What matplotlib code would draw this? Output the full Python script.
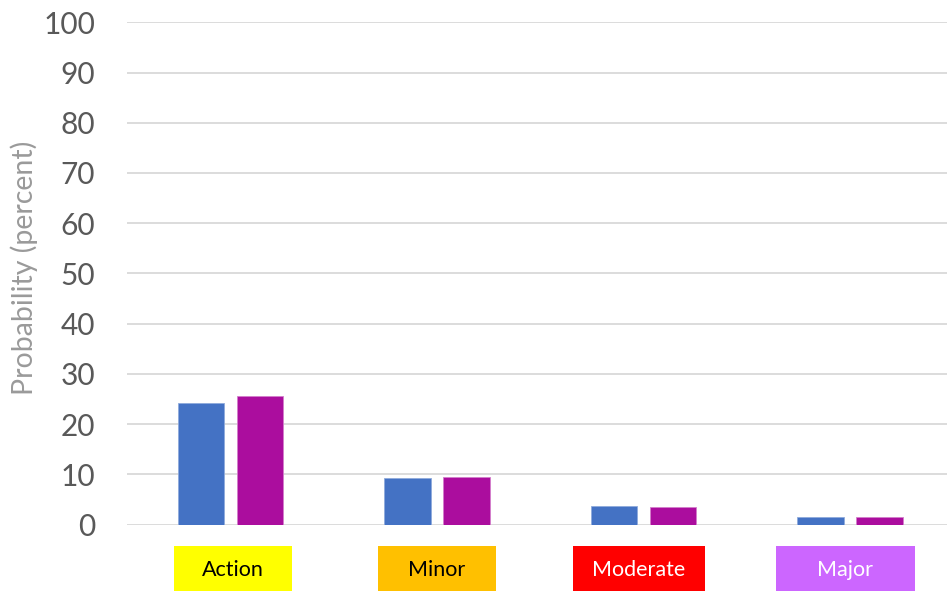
import matplotlib
matplotlib.use("Agg")
import matplotlib.pyplot as plt
from matplotlib.patches import Rectangle
import numpy as np

categories = ["Action", "Minor", "Moderate", "Major"]
series_a = [24.2, 9.3, 3.6, 1.45]
series_b = [25.6, 9.4, 3.55, 1.45]
yticks = [0, 10, 20, 30, 40, 50, 60, 70, 80, 90, 100]

box_colors = ["#FFFF00", "#FFC000", "#FF0000", "#CC66FF"]
text_colors = ["black", "black", "white", "white"]
box_widths = [0.571, 0.571, 0.639, 0.673]
box_offsets = [0.013, 0.0, -0.021, -0.021]

plt.rcParams['font.family'] = ['Lato', 'DejaVu Sans']

W, H = 947, 591
fig = plt.figure(figsize=(W / 100, H / 100), dpi=100)
ax = fig.add_axes([127 / W, (H - 524.5) / H, (953 - 127) / W, (524.5 - 22.3) / H])

x = np.arange(len(categories))
bw = 0.225
ax.bar(x - 0.142, series_a, width=bw, color="#4472C4", edgecolor="#8FAADC", linewidth=0.6, zorder=3)
ax.bar(x + 0.143, series_b, width=bw, color="#AB0D9E", edgecolor="#D37FCB", linewidth=0.6, zorder=3)

ax.set_xlim(-0.5, len(categories) - 0.5)
ax.set_ylim(0, 100)
ax.set_yticks(yticks)
ax.set_yticklabels([str(v) for v in yticks], fontsize=21.5, color="#595959")
ax.tick_params(axis='y', length=0, pad=23)
ax.set_xticks([])
ax.grid(axis='y', color="#D9D9D9", linewidth=1.3, zorder=0)
for s in ax.spines.values():
    s.set_visible(False)

fig.text(24 / W, 1 - 268 / H, "Probability (percent)", rotation=90, fontsize=20.5,
         color="#9a9a9a", ha="center", va="center")

ppu = (524.5 - 22.3) / 100.0
top = -(546 - 524.5) / ppu
bottom = -(600 - 524.5) / ppu
tc = -(569.5 - 524.5) / ppu
for i, cat in enumerate(categories):
    cx = i + box_offsets[i]
    r = Rectangle((cx - box_widths[i] / 2, bottom), box_widths[i], top - bottom,
                  facecolor=box_colors[i], edgecolor="none", clip_on=False, zorder=4)
    ax.add_patch(r)
    ax.text(cx, tc, cat, ha="center", va="center", fontsize=15.5, color=text_colors[i],
            clip_on=False, zorder=5)

fig.savefig("out.png", dpi=100)
